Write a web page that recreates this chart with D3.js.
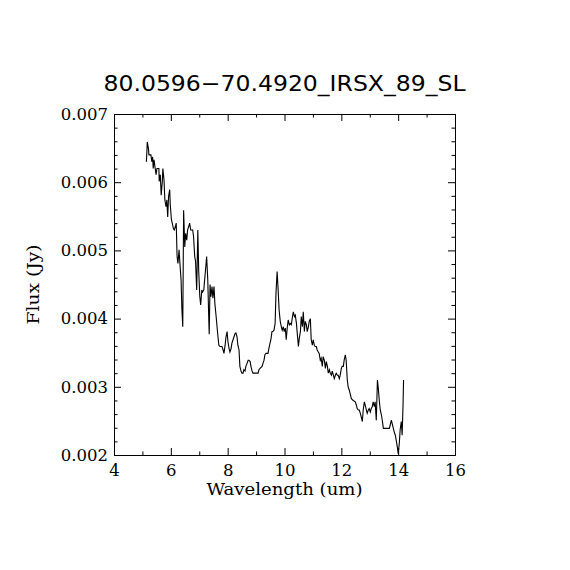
<!DOCTYPE html>
<html>
<head>
<meta charset="utf-8">
<script src="https://cdn.jsdelivr.net/npm/d3@7"></script>
<style>
  body { margin: 0; background: #fff; }
  svg { display: block; }
  .tick text { font-family: "DejaVu Serif", "Liberation Serif", serif; font-size: 16.5px; fill: #000; }
</style>
</head>
<body>
<script>
// spectrum
var wavelength = [
  5.14, 5.16, 5.17, 5.21, 5.23, 5.30, 5.33, 5.36, 5.38, 5.41, 5.44, 5.48, 5.51, 5.58, 5.59, 5.63,
  5.66, 5.70, 5.72, 5.76, 5.79, 5.83, 5.86, 5.89, 5.92, 5.96, 5.98, 6.02, 6.05, 6.09, 6.12, 6.16,
  6.19, 6.22, 6.25, 6.29, 6.32, 6.36, 6.39, 6.42, 6.45, 6.49, 6.52, 6.56, 6.59, 6.63, 6.66, 6.70,
  6.77, 6.80, 6.84, 6.87, 6.91, 6.95, 6.98, 7.02, 7.05, 7.09, 7.12, 7.16, 7.19, 7.23, 7.26, 7.30,
  7.33, 7.35, 7.38, 7.41, 7.45, 7.48, 7.52, 7.55, 7.59, 7.62, 7.66, 7.69, 7.73, 7.80, 7.84, 7.87,
  7.91, 7.94, 7.98, 8.01, 8.05, 8.08, 8.12, 8.15, 8.19, 8.22, 8.26, 8.29, 8.33, 8.36, 8.40, 8.43,
  8.47, 8.50, 8.54, 8.57, 8.61, 8.64, 8.68, 8.72, 8.75, 8.79, 8.82, 8.86, 8.89, 9.07, 9.10, 9.14,
  9.21, 9.24, 9.28, 9.31, 9.35, 9.42, 9.45, 9.49, 9.52, 9.56, 9.59, 9.63, 9.67, 9.70, 9.74, 9.77,
  9.81, 9.85, 9.89, 9.92, 9.96, 9.99, 10.03, 10.06, 10.10, 10.13, 10.17, 10.20, 10.24, 10.27, 10.31, 10.35,
  10.38, 10.42, 10.45, 10.49, 10.52, 10.56, 10.59, 10.63, 10.66, 10.70, 10.73, 10.77, 10.80, 10.84, 10.87, 10.91,
  10.94, 10.98, 11.01, 11.05, 11.08, 11.12, 11.15, 11.19, 11.22, 11.26, 11.29, 11.33, 11.36, 11.40, 11.44, 11.47,
  11.51, 11.54, 11.58, 11.61, 11.65, 11.68, 11.72, 11.75, 11.79, 11.82, 11.86, 11.89, 11.93, 11.96, 12.00, 12.03,
  12.07, 12.10, 12.14, 12.17, 12.21, 12.24, 12.28, 12.31, 12.35, 12.39, 12.42, 12.49, 12.53, 12.56, 12.60, 12.63,
  12.67, 12.70, 12.74, 12.77, 12.81, 12.84, 12.88, 12.91, 12.95, 12.98, 13.02, 13.05, 13.09, 13.12, 13.16, 13.19,
  13.23, 13.27, 13.30, 13.34, 13.37, 13.41, 13.44, 13.48, 13.69, 13.72, 13.76, 13.79, 13.83, 13.86, 13.90, 13.93,
  13.97, 14.00, 14.04, 14.07, 14.11, 14.14, 14.17, 14.19
];
var flux = [
  0.00630, 0.00647, 0.00659, 0.00650, 0.00640, 0.00640, 0.00630, 0.00637, 0.00620, 0.00633, 0.00623, 0.00611, 0.00620, 0.00620, 0.00601, 0.00611,
  0.00581, 0.00601, 0.00620, 0.00603, 0.00574, 0.00564, 0.00574, 0.00549, 0.00579, 0.00589, 0.00567, 0.00545, 0.00540, 0.00532, 0.00530, 0.00535,
  0.00540, 0.00491, 0.00481, 0.00501, 0.00481, 0.00457, 0.00413, 0.00388, 0.00559, 0.00505, 0.00525, 0.00515, 0.00530, 0.00535, 0.00540, 0.00530,
  0.00530, 0.00520, 0.00491, 0.00484, 0.00442, 0.00530, 0.00471, 0.00432, 0.00420, 0.00442, 0.00439, 0.00442, 0.00457, 0.00476, 0.00491, 0.00457,
  0.00408, 0.00377, 0.00450, 0.00432, 0.00447, 0.00430, 0.00447, 0.00422, 0.00405, 0.00391, 0.00373, 0.00361, 0.00359, 0.00359, 0.00354, 0.00349,
  0.00361, 0.00373, 0.00381, 0.00366, 0.00356, 0.00351, 0.00356, 0.00364, 0.00369, 0.00373, 0.00378, 0.00379, 0.00373, 0.00361, 0.00354, 0.00330,
  0.00323, 0.00320, 0.00320, 0.00325, 0.00323, 0.00330, 0.00334, 0.00339, 0.00339, 0.00337, 0.00330, 0.00323, 0.00320, 0.00320, 0.00325, 0.00327,
  0.00330, 0.00334, 0.00339, 0.00347, 0.00349, 0.00349, 0.00356, 0.00364, 0.00369, 0.00381, 0.00381, 0.00383, 0.00393, 0.00437, 0.00469, 0.00447,
  0.00413, 0.00396, 0.00388, 0.00383, 0.00388, 0.00381, 0.00386, 0.00369, 0.00388, 0.00398, 0.00391, 0.00393, 0.00391, 0.00400, 0.00410, 0.00403,
  0.00405, 0.00393, 0.00378, 0.00359, 0.00371, 0.00381, 0.00403, 0.00388, 0.00410, 0.00381, 0.00396, 0.00391, 0.00381, 0.00388, 0.00396, 0.00400,
  0.00369, 0.00361, 0.00369, 0.00361, 0.00359, 0.00359, 0.00354, 0.00351, 0.00349, 0.00339, 0.00342, 0.00330, 0.00344, 0.00339, 0.00327, 0.00337,
  0.00330, 0.00320, 0.00325, 0.00320, 0.00317, 0.00323, 0.00317, 0.00312, 0.00317, 0.00320, 0.00317, 0.00317, 0.00312, 0.00317, 0.00327, 0.00330,
  0.00330, 0.00339, 0.00347, 0.00339, 0.00310, 0.00300, 0.00295, 0.00290, 0.00283, 0.00281, 0.00280, 0.00278, 0.00273, 0.00268, 0.00266, 0.00266,
  0.00261, 0.00256, 0.00249, 0.00266, 0.00278, 0.00273, 0.00266, 0.00261, 0.00266, 0.00268, 0.00263, 0.00268, 0.00271, 0.00278, 0.00271, 0.00278,
  0.00251, 0.00310, 0.00298, 0.00278, 0.00266, 0.00259, 0.00251, 0.00239, 0.00239, 0.00244, 0.00251, 0.00246, 0.00239, 0.00234, 0.00229, 0.00222,
  0.00212, 0.00202, 0.00217, 0.00237, 0.00249, 0.00229, 0.00271, 0.00310
];

var xMajor = [4, 6, 8, 10, 12, 14, 16];
var xMinor = [5, 7, 9, 11, 13, 15];
var yMajor = [0.002, 0.003, 0.004, 0.005, 0.006, 0.007];
var yMinor = [];
yMajor.slice(0, -1).forEach(function(v) {
  for (var k = 1; k < 5; k++) yMinor.push(v + k * 0.0002);
});

var titleText = "80.0596\u221270.4920_IRSX_89_SL";

var width = 570, height = 570;
var plotLeft = 114, plotTop = 114, plotW = 341, plotH = 341;

var svg = d3.select("body").append("svg")
  .attr("width", width)
  .attr("height", height)

var x = d3.scaleLinear().domain([4, 16]).range([plotLeft, plotLeft + plotW]);
var y = d3.scaleLinear().domain([0.002, 0.007]).range([plotTop + plotH, plotTop]);

var majorLen = 7, minorLen = 3.5;

function drawAxis(axis, transform, labels) {
  var g = svg.append("g")
    .attr("transform", transform)
    .call(axis);
  g.select(".domain").attr("stroke", "#000").attr("stroke-width", 1);
  g.selectAll(".tick line").attr("stroke", "#000").attr("stroke-width", 1);
  if (!labels) g.selectAll(".tick text").remove();
  return g;
}

// bottom
drawAxis(d3.axisBottom(x).tickValues(xMajor).tickFormat(d3.format("d"))
  .tickSizeInner(-majorLen).tickSizeOuter(0).tickPadding(9),
  "translate(0," + (plotTop + plotH) + ")", true);
drawAxis(d3.axisBottom(x).tickValues(xMinor).tickSizeInner(-minorLen).tickSizeOuter(0),
  "translate(0," + (plotTop + plotH) + ")", false);
// top
drawAxis(d3.axisTop(x).tickValues(xMajor).tickSizeInner(-majorLen).tickSizeOuter(0),
  "translate(0," + plotTop + ")", false);
drawAxis(d3.axisTop(x).tickValues(xMinor).tickSizeInner(-minorLen).tickSizeOuter(0),
  "translate(0," + plotTop + ")", false);
// left
drawAxis(d3.axisLeft(y).tickValues(yMajor).tickFormat(d3.format(".3f"))
  .tickSizeInner(-majorLen).tickSizeOuter(0).tickPadding(6),
  "translate(" + plotLeft + ",0)", true);
drawAxis(d3.axisLeft(y).tickValues(yMinor).tickSizeInner(-minorLen).tickSizeOuter(0),
  "translate(" + plotLeft + ",0)", false);
// right
drawAxis(d3.axisRight(y).tickValues(yMajor).tickSizeInner(-majorLen).tickSizeOuter(0),
  "translate(" + (plotLeft + plotW) + ",0)", false);
drawAxis(d3.axisRight(y).tickValues(yMinor).tickSizeInner(-minorLen).tickSizeOuter(0),
  "translate(" + (plotLeft + plotW) + ",0)", false);

// spectrum
var line = d3.line()
  .x(function(d, i) { return x(wavelength[i]); })
  .y(function(d) { return y(d); });

svg.append("path")
  .datum(flux)
  .attr("fill", "none")
  .attr("stroke", "#000")
  .attr("stroke-width", 1.1)
  .attr("d", line);

// title and axis labels
svg.append("text")
  .attr("x", plotLeft + plotW / 2)
  .attr("y", 91)
  .attr("text-anchor", "middle")
  .attr("font-family", "DejaVu Sans, sans-serif")
  .attr("font-size", 22)
  .attr("textLength", 362)
  .attr("lengthAdjust", "spacingAndGlyphs")
  .text(titleText);

svg.append("text")
  .attr("x", plotLeft + plotW / 2)
  .attr("y", 495)
  .attr("text-anchor", "middle")
  .attr("font-family", "DejaVu Serif, serif")
  .attr("font-size", 16)
  .attr("textLength", 156)
  .attr("lengthAdjust", "spacingAndGlyphs")
  .text("Wavelength (um)");

svg.append("text")
  .attr("transform", "translate(39," + (plotTop + plotH / 2) + ") rotate(-90)")
  .attr("text-anchor", "middle")
  .attr("font-family", "DejaVu Serif, serif")
  .attr("font-size", 16)
  .attr("textLength", 80)
  .attr("lengthAdjust", "spacingAndGlyphs")
  .text("Flux (Jy)");
</script>
</body>
</html>
